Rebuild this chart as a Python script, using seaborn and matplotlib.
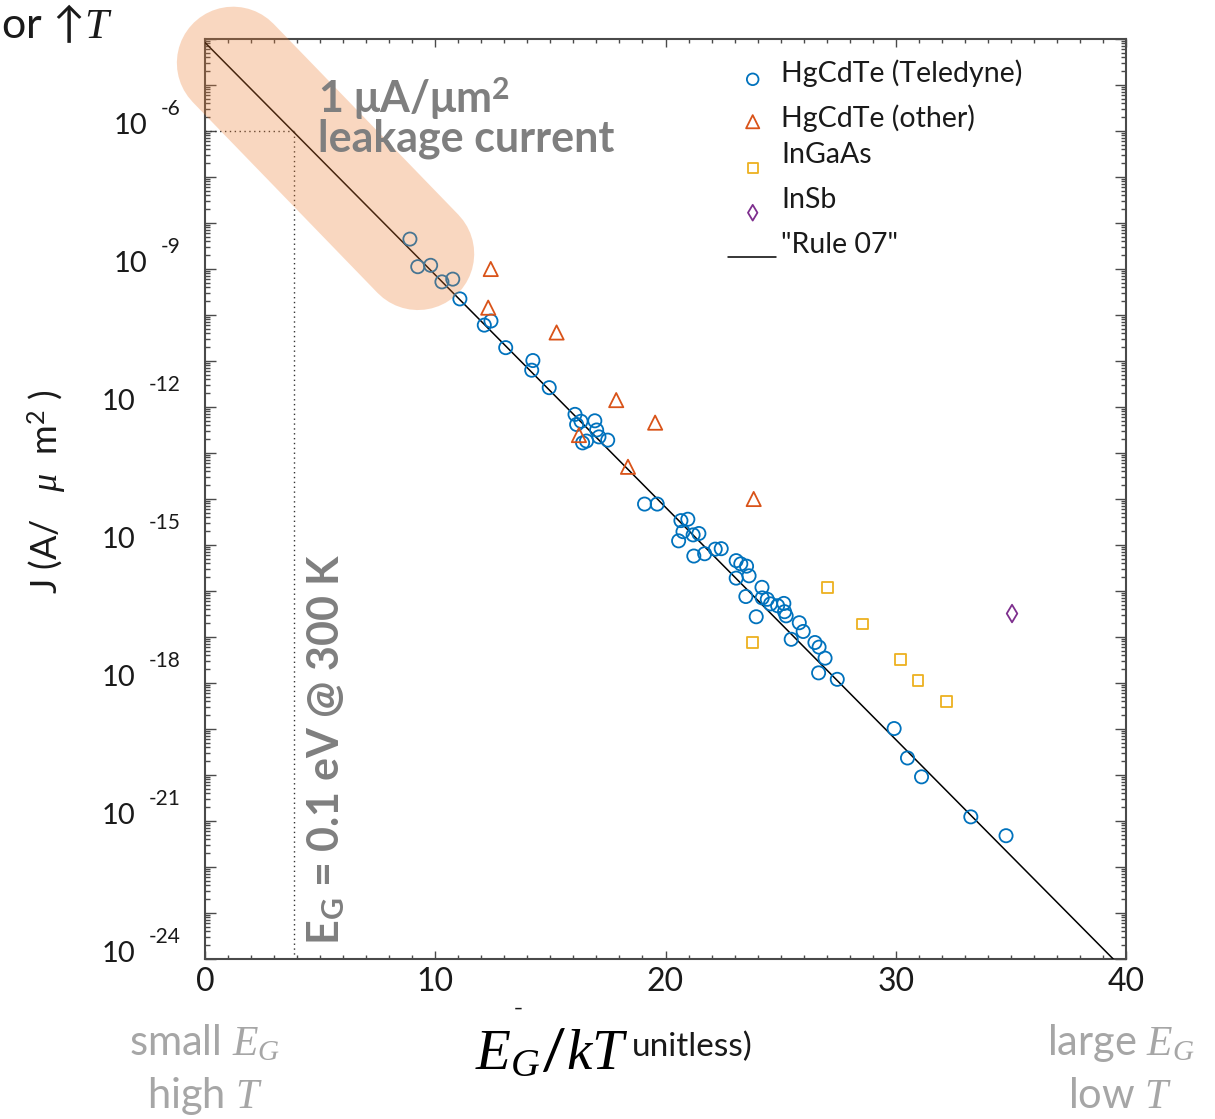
import numpy as np
import pandas as pd
import matplotlib
matplotlib.use("Agg")
import matplotlib.pyplot as plt
import seaborn as sns
from matplotlib.ticker import FixedLocator, NullFormatter

# ---------------------------------------------------------------- data
# Dark current density J (A/um^2), stored as log10(J), versus E_G/kT
tele_x = [8.90, 9.24, 9.80, 10.29, 10.76, 11.07, 12.13, 12.42, 13.06, 14.24,
          14.19, 14.95, 16.07, 16.14, 16.33, 16.93, 17.01, 17.11, 17.49, 16.40,
          16.57, 19.09, 19.64, 20.67, 20.97, 20.76, 21.20, 21.45, 20.57, 21.23,
          21.70, 22.16, 22.42, 23.07, 23.27, 23.52, 23.07, 23.63, 24.19, 23.49,
          24.20, 24.42, 24.56, 24.87, 25.14, 25.17, 25.24, 23.94, 25.81, 25.98,
          25.46, 26.49, 26.67, 26.93, 26.65, 27.46, 29.93, 30.51, 31.12, 33.26,
          34.79]
tele_log = [-8.35, -8.95, -8.92, -9.28, -9.22, -9.65, -10.22, -10.13, -10.71, -10.99,
            -11.20, -11.58, -12.16, -12.38, -12.31, -12.30, -12.50, -12.65, -12.72, -12.78,
            -12.74, -14.11, -14.11, -14.47, -14.44, -14.71, -14.78, -14.75, -14.91, -15.24,
            -15.19, -15.09, -15.08, -15.34, -15.41, -15.46, -15.72, -15.67, -15.92, -16.12,
            -16.15, -16.18, -16.28, -16.32, -16.27, -16.45, -16.54, -16.56, -16.69, -16.88,
            -17.05, -17.12, -17.22, -17.46, -17.78, -17.92, -18.99, -19.63, -20.04, -20.91,
            -21.32]

other_x = [12.41, 12.30, 15.27, 17.86, 19.55, 16.24, 18.37, 23.83]
other_log = [-9.00, -9.84, -10.38, -11.85, -12.34, -12.61, -13.30, -14.00]

ingaas_x = [27.05, 28.57, 30.21, 30.97, 32.21, 23.78]
ingaas_log = [-15.93, -16.72, -17.49, -17.94, -18.41, -17.12]

insb_x = [35.05]
insb_log = [-16.49]

series_names = ["HgCdTe (Teledyne)", "HgCdTe (other)", "InGaAs", "InSb"]
series_colors = ["#0072BD", "#D95319", "#EDB120", "#7E2F8E"]
series_markers = ["o", "^", "s", "d"]
series_sizes = [90, 105, 60, 80]

# "Rule 07": J = J0 * exp(C * E_G/kT), J0 = 8367 A/cm^2 = 8.367e-5 A/um^2
RULE07_J0 = 8367.000019e-8
RULE07_C = -1.162972237
rule_x = np.array([0.0, 40.0])

# E_G = 0.1 eV at 300 K
EG_KT_300K = 0.1 / (8.617333e-5 * 300.0)

ytick_exponents = [-6, -9, -12, -15, -18, -21, -24]
xtick_values = [0, 10, 20, 30, 40]

# ---------------------------------------------------------------- style
sns.set_theme(style="ticks")
plt.rcParams["font.family"] = ["Lato", "DejaVu Sans"]
plt.rcParams["mathtext.fontset"] = "custom"
plt.rcParams["mathtext.rm"] = "Lato"
plt.rcParams["mathtext.sf"] = "Lato"
plt.rcParams["mathtext.it"] = "Liberation Serif:italic"
plt.rcParams["mathtext.bf"] = "Lato:bold"

W, H = 1215, 1119
fig = plt.figure(figsize=(W / 100, H / 100), dpi=100)
fig.patch.set_facecolor("white")


def fx(px):
    return px / W


def fy(py):
    return 1 - py / H


ax_left, ax_right, ax_top, ax_bottom = 205, 1126, 39, 959
ax = fig.add_axes([fx(ax_left), fy(ax_bottom), fx(ax_right - ax_left), (ax_bottom - ax_top) / H])
ax.set_yscale("log")
ax.set_xlim(0, 40)
ax.set_ylim(1e-24, 1e-4)

# ---------------------------------------------------------------- marks
frames = [
    pd.DataFrame({"x": tele_x, "J": 10.0 ** np.array(tele_log)}),
    pd.DataFrame({"x": other_x, "J": 10.0 ** np.array(other_log)}),
    pd.DataFrame({"x": ingaas_x, "J": 10.0 ** np.array(ingaas_log)}),
    pd.DataFrame({"x": insb_x, "J": 10.0 ** np.array(insb_log)}),
]
for df, c, m, s in zip(frames, series_colors, series_markers, series_sizes):
    sns.scatterplot(data=df, x="x", y="J", marker=m, s=s, color=c,
                    facecolor="none", edgecolor=c, linewidth=1.3, ax=ax,
                    zorder=4, legend=False)

rule_df = pd.DataFrame({"x": rule_x, "J": RULE07_J0 * np.exp(RULE07_C * rule_x)})
sns.lineplot(data=rule_df, x="x", y="J", color="black", linewidth=1.1, ax=ax, zorder=3)

# E_G = 0.1 eV @ 300 K guide lines
ax.plot([EG_KT_300K, EG_KT_300K], [1e-24, 1e-6], color="#333333", lw=1.0,
        ls=(0, (1, 2.5)), zorder=2)
ax.plot([0, EG_KT_300K], [1e-6, 1e-6], color="#333333", lw=1.0,
        ls=(0, (1, 2.5)), zorder=2)

# ---------------------------------------------------------------- axes
ax.set_xlabel("")
ax.set_ylabel("")
for sp in ax.spines.values():
    sp.set_visible(True)
    sp.set_color("#4a4a4a")
    sp.set_linewidth(1.5)

ax.xaxis.set_major_locator(FixedLocator(xtick_values))
ax.xaxis.set_minor_locator(FixedLocator(np.arange(0, 41, 1)))
ax.set_xticklabels([str(v) for v in xtick_values], fontsize=23, color="#1a1a1a")

decades = 10.0 ** np.arange(-24, -3)
minor = [k * d for d in decades[:-1] for k in range(2, 10)]
ax.yaxis.set_major_locator(FixedLocator(decades))
ax.yaxis.set_minor_locator(FixedLocator(minor))
ax.yaxis.set_major_formatter(NullFormatter())
ax.yaxis.set_minor_formatter(NullFormatter())

ax.tick_params(axis="both", which="both", direction="in", top=True, right=True,
               color="#4a4a4a", width=1.0)
ax.tick_params(axis="x", which="major", length=6, pad=6)
ax.tick_params(axis="x", which="minor", length=3)
ax.tick_params(axis="y", which="major", length=8)
ax.tick_params(axis="y", which="minor", length=3.5)

# y tick labels drawn as "10" followed by a raised exponent
ytr = ax.get_yaxis_transform()
for e in ytick_exponents:
    exp_txt = ax.annotate(f"-{abs(e)}", xy=(0, 10.0 ** e), xycoords=ytr,
                          xytext=(-24, 16), textcoords="offset pixels",
                          ha="right", va="baseline", fontsize=15,
                          color="#1a1a1a", annotation_clip=False)
    ax.annotate("10", xy=(0, 0), xycoords=exp_txt, xytext=(-14, -15),
                textcoords="offset pixels", ha="right", va="baseline",
                fontsize=21, color="#1a1a1a", annotation_clip=False)

# ---------------------------------------------------------------- legend
def axf(px, py):
    return ((px - ax_left) / (ax_right - ax_left), (ax_bottom - py) / (ax_bottom - ax_top))


legend_marker_px = [(752.7, 79.3), (752.7, 121.7), (752.7, 167.7), (752.7, 212.7)]
legend_text_baseline = [82, 127, 163, 208]
legend_sizes = [70, 90, 48, 64]
for name, c, m, s, (mx, my), tb in zip(series_names, series_colors, series_markers,
                                          legend_sizes, legend_marker_px, legend_text_baseline):
    ax.scatter(*axf(mx, my), marker=m, s=s, facecolor="none", edgecolor=c,
               linewidth=1.3, transform=ax.transAxes, clip_on=False, zorder=6)
    ax.text(*axf(781, tb), name, transform=ax.transAxes, ha="left", va="baseline",
            fontsize=20.5, color="#1a1a1a")
l0, l1 = axf(728, 256.5), axf(776, 256.5)
ax.plot([l0[0], l1[0]], [l0[1], l1[1]], color="black", lw=1.1,
        transform=ax.transAxes, clip_on=False)
ax.text(*axf(781, 253), '"Rule 07"', transform=ax.transAxes, ha="left",
        va="baseline", fontsize=20.5, color="#1a1a1a")

# ---------------------------------------------------------------- annotations
fig.text(fx(318), fy(113), r"1 μA/μm$^{\mathbf{2}}$", fontsize=31, fontweight="bold",
         color="#7f7f7f", ha="left", va="baseline")
fig.text(fx(318), fy(152), "leakage current", fontsize=31, fontweight="bold",
         color="#7f7f7f", ha="left", va="baseline")

fig.text(fx(339), fy(945), r"E$_{\mathbf{G}}$ = 0.1 eV @ 300 K", rotation=90,
         fontsize=31, fontweight="bold", color="#7f7f7f", ha="left", va="baseline",
         rotation_mode="anchor")

# highlighted band around the 1 uA/um^2 corner
ax.plot([1.22, 9.25], [10 ** -4.52, 10 ** -8.67], color="#ED7D31", alpha=0.3,
        lw=81, solid_capstyle="round", clip_on=False, zorder=10)

# axis labels
fig.text(fx(47), fy(492), r"J (A/   $\mu$  m$^{\mathrm{2}}$ )", rotation=90, fontsize=26,
         color="#1a1a1a", ha="center", va="center")
fig.text(fx(475), fy(1069), r"$E_G/kT$", fontsize=41, color="black",
         ha="left", va="baseline")
fig.text(fx(632), fy(1056), "unitless)", fontsize=24, color="#1a1a1a",
         ha="left", va="baseline")
fig.text(fx(518), fy(1016), "¯", fontsize=16, color="#1a1a1a", ha="center",
         va="center")

gray_side = "#a6a6a6"
fig.text(fx(205), fy(1055), r"small $E_G$", fontsize=30, color=gray_side,
         ha="center", va="baseline")
fig.text(fx(205), fy(1108), r"high $T$", fontsize=30, color=gray_side,
         ha="center", va="baseline")
fig.text(fx(1121), fy(1055), r"large $E_G$", fontsize=30, color=gray_side,
         ha="center", va="baseline")
fig.text(fx(1120), fy(1108), r"low $T$", fontsize=30, color=gray_side,
         ha="center", va="baseline")

fig.text(fx(1), fy(38), r"or ↑$T$", fontsize=31, color="#1a1a1a",
         ha="left", va="baseline", family=["Lato", "DejaVu Sans"])

fig.savefig("out.png", dpi=100, facecolor="white")
